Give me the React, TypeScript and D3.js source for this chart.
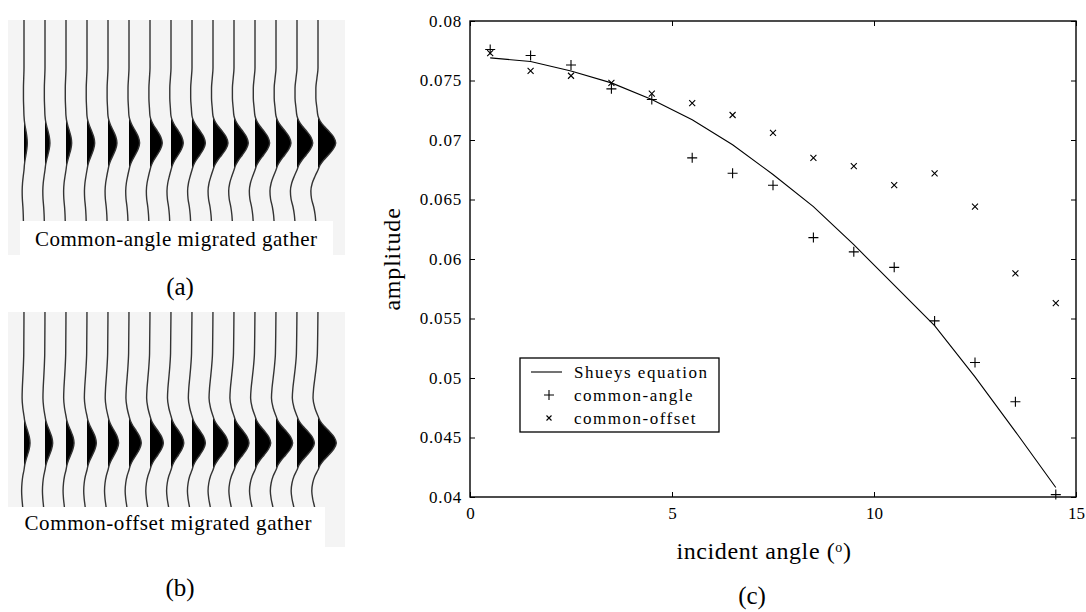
import React from "react";
import * as d3 from "d3";

// incident angle samples (degrees)
const angles = [0.5, 1.5, 2.5, 3.5, 4.5, 5.5, 6.5, 7.5, 8.5, 9.5, 10.5, 11.5, 12.5, 13.5, 14.5];
const shuey = [0.0769, 0.0766, 0.0758, 0.0748, 0.0734, 0.0717, 0.0696, 0.0671, 0.0644, 0.0612, 0.0578, 0.0544, 0.0501, 0.0455, 0.0408];
const commonAngle = [0.0776, 0.0771, 0.0763, 0.0743, 0.0734, 0.0685, 0.0672, 0.0662, 0.0618, 0.0606, 0.0593, 0.0548, 0.0513, 0.048, 0.0402];
const commonOffset = [0.0773, 0.0758, 0.0754, 0.0748, 0.0739, 0.0731, 0.0721, 0.0706, 0.0685, 0.0678, 0.0662, 0.0672, 0.0644, 0.0588, 0.0563];
const xTicks = [0, 5, 10, 15];
const yTicks = [0.04, 0.045, 0.05, 0.055, 0.06, 0.065, 0.07, 0.075, 0.08];
const yTickLabels = ["0.04", "0.045", "0.05", "0.055", "0.06", "0.065", "0.07", "0.075", "0.08"];

// seismic gathers: 15 traces each
const traces = [1, 2, 3, 4, 5, 6, 7, 8, 9, 10, 11, 12, 13, 14, 15];
const peakA = [0.18, 0.27, 0.31, 0.42, 0.49, 0.58, 0.67, 0.67, 0.73, 0.82, 0.78, 0.8, 0.82, 0.86, 0.97];
const sideA = [0.1, 0.12, 0.13, 0.14, 0.16, 0.18, 0.2, 0.22, 0.24, 0.27, 0.29, 0.31, 0.33, 0.36, 0.39];
const peakB = [0.33, 0.42, 0.44, 0.51, 0.58, 0.67, 0.73, 0.7, 0.73, 0.82, 0.82, 0.86, 0.91, 0.95, 1.0];
const sideB = [0.13, 0.14, 0.16, 0.18, 0.19, 0.21, 0.23, 0.24, 0.25, 0.27, 0.28, 0.3, 0.31, 0.32, 0.34];

// wavelet samples (relative time) with main lobe and side lobe shapes
const waveTimes = [-140, -90, -75, -65, -55, -45, -35, -27, -22, -17, -12, -6, 0, 6, 12, 17, 22, 27, 33, 40, 48, 56, 64, 72, 80, 90];
const mainLobe = [0, 0, 0, 0, 0, 0, 0, 0, 0.12, 0.33, 0.6, 0.88, 1, 0.86, 0.58, 0.32, 0.12, 0, 0, 0, 0, 0, 0, 0, 0, 0];
const sideLobeA = [0, 0, 0, -0.15, -0.3, -0.3, -0.15, 0, 0, 0, 0, 0, 0, 0, 0, 0, 0, 0, -0.4, -0.8, -1, -0.9, -0.6, -0.4, -0.3, -0.2];
const sideLobeB = [0, -0.1, -0.3, -0.5, -0.7, -0.8, -0.5, 0, 0, 0, 0, 0, 0, 0, 0, 0, 0, 0, -0.5, -0.85, -1, -0.85, -0.55, -0.35, -0.25, -0.2];

const SERIF = "'Liberation Serif', 'Times New Roman', serif";

function drawGather(svg, id, top, tDomain, peaks, sides, sideShape, caption, captionBox, label) {
  const g = svg.append("g");
  const bottom = top + (tDomain[1] - tDomain[0]);
  g.append("rect").attr("x", 8).attr("y", top).attr("width", 337).attr("height", 235).attr("fill", "#f4f4f4");

  const xScale = d3.scaleLinear().domain([1, 15]).range([24, 318]);
  const amp = d3.scaleLinear().domain([0, 1]).range([0, 18.3]);
  const tScale = d3.scaleLinear().domain(tDomain).range([top, bottom]);

  svg.append("clipPath").attr("id", id).append("rect").attr("x", 0).attr("y", top).attr("width", 360).attr("height", bottom - top);
  const traceG = g.append("g").attr("clip-path", `url(#${id})`);

  traces.forEach((tr, i) => {
    const base = xScale(tr);
    const vals = waveTimes.map((t, k) => ({ t, v: amp(peaks[i] * mainLobe[k] + sides[i] * sideShape[k]) }));
    const area = d3
      .area()
      .y((d) => tScale(d.t))
      .x0(base)
      .x1((d) => base + Math.max(0, d.v))
      .curve(d3.curveMonotoneY);
    const line = d3
      .line()
      .y((d) => tScale(d.t))
      .x((d) => base + d.v)
      .curve(d3.curveMonotoneY);
    traceG.append("path").attr("d", area(vals)).attr("fill", "#000");
    traceG.append("path").attr("d", line(vals)).attr("fill", "none").attr("stroke", "#333").attr("stroke-width", 1.4);
  });

  g.append("rect")
    .attr("x", captionBox[0])
    .attr("y", bottom)
    .attr("width", captionBox[1] - captionBox[0])
    .attr("height", captionBox[2])
    .attr("fill", "#fff");
  g.append("text")
    .attr("x", caption.x)
    .attr("y", caption.y)
    .attr("text-anchor", "middle")
    .attr("font-family", SERIF)
    .attr("font-size", 21)
    .attr("textLength", caption.w)
    .attr("lengthAdjust", "spacing")
    .text(caption.text);
  g.append("text")
    .attr("x", 180)
    .attr("y", label.y)
    .attr("text-anchor", "middle")
    .attr("font-family", SERIF)
    .attr("font-size", 25)
    .text(label.text);
}

export default function App() {
  const svgRef = React.useRef(null);

  React.useEffect(() => {
    const svg = d3.select(svgRef.current);
    svg.selectAll("*").remove();

    drawGather(svg, "clipA", 20, [-123, 78], peakA, sideA, sideLobeA,
      { x: 176, y: 246, w: 282, text: "Common-angle migrated gather" }, [20, 333, 34], { y: 295, text: "(a)" });
    drawGather(svg, "clipB", 312, [-131, 64], peakB, sideB, sideLobeB,
      { x: 168, y: 530, w: 287, text: "Common-offset migrated gather" }, [8, 325, 40], { y: 596, text: "(b)" });

    // chart (c)
    const x = d3.scaleLinear().domain([0, 15]).range([470, 1076]);
    const y = d3.scaleLinear().domain([0.04, 0.08]).range([497, 21]);
    const plot = svg.append("g");

    plot.append("rect").attr("x", 470).attr("y", 21).attr("width", 606).attr("height", 476).attr("fill", "#fff");

    const yAxis = d3
      .axisLeft(y)
      .tickValues(yTicks)
      .tickSize(-5)
      .tickPadding(8)
      .tickFormat((d, i) => yTickLabels[i]);
    plot
      .append("g")
      .attr("transform", "translate(470,0)")
      .call(yAxis)
      .call((a) => a.select(".domain").remove())
      .call((a) => a.selectAll("line").attr("stroke", "#000"))
      .selectAll("text")
      .attr("font-family", SERIF)
      .attr("font-size", 17)
      .attr("letter-spacing", 0.8)
      .attr("fill", "#000");

    const xAxis = d3.axisBottom(x).tickValues(xTicks).tickSize(-5).tickPadding(10).tickFormat(d3.format("d"));
    plot
      .append("g")
      .attr("transform", "translate(0,497)")
      .call(xAxis)
      .call((a) => a.select(".domain").remove())
      .call((a) => a.selectAll("line").attr("stroke", "#000"))
      .selectAll("text")
      .attr("font-family", SERIF)
      .attr("font-size", 17)
      .attr("fill", "#000");

    plot
      .append("g")
      .attr("transform", "translate(0,21)")
      .call(d3.axisTop(x).tickValues(xTicks).tickSize(-5).tickFormat(() => ""))
      .call((a) => a.select(".domain").remove())
      .selectAll("line")
      .attr("stroke", "#000");
    plot
      .append("g")
      .attr("transform", "translate(1076,0)")
      .call(d3.axisRight(y).tickValues(yTicks).tickSize(-5).tickFormat(() => ""))
      .call((a) => a.select(".domain").remove())
      .selectAll("line")
      .attr("stroke", "#000");

    plot
      .append("rect")
      .attr("x", 470)
      .attr("y", 21)
      .attr("width", 606)
      .attr("height", 476)
      .attr("fill", "none")
      .attr("stroke", "#000")
      .attr("stroke-width", 1.4);

    const line = d3
      .line()
      .x((d, i) => x(angles[i]))
      .y((d) => y(d));
    plot.append("path").attr("d", line(shuey)).attr("fill", "none").attr("stroke", "#000").attr("stroke-width", 1.1);

    const plusPath = "M-5,0H5M0,-5V5";
    const crossPath = "M-3,-3L3,3M-3,3L3,-3";
    plot
      .selectAll(".ca")
      .data(commonAngle)
      .join("path")
      .attr("class", "ca")
      .attr("transform", (d, i) => `translate(${x(angles[i])},${y(d)})`)
      .attr("d", plusPath)
      .attr("stroke", "#000")
      .attr("stroke-width", 1.1)
      .attr("fill", "none");
    plot
      .selectAll(".co")
      .data(commonOffset)
      .join("path")
      .attr("class", "co")
      .attr("transform", (d, i) => `translate(${x(angles[i])},${y(d)})`)
      .attr("d", crossPath)
      .attr("stroke", "#000")
      .attr("stroke-width", 1.1)
      .attr("fill", "none");

    // legend
    const lg = plot.append("g");
    lg.append("rect").attr("x", 520).attr("y", 358).attr("width", 199).attr("height", 74).attr("fill", "#fff").attr("stroke", "#000").attr("stroke-width", 1.3);
    const rows = [
      { label: "Shueys equation", kind: "line" },
      { label: "common-angle", kind: "plus" },
      { label: "common-offset", kind: "cross" },
    ];
    rows.forEach((r, i) => {
      const cy = 372 + i * 23;
      if (r.kind === "line") {
        lg.append("line").attr("x1", 531).attr("x2", 562).attr("y1", cy).attr("y2", cy).attr("stroke", "#000").attr("stroke-width", 1.1);
      } else {
        lg.append("path")
          .attr("transform", `translate(549,${cy})`)
          .attr("d", r.kind === "plus" ? plusPath : "M-2.5,-2.5L2.5,2.5M-2.5,2.5L2.5,-2.5")
          .attr("stroke", "#000")
          .attr("stroke-width", 1.1);
      }
      lg.append("text")
        .attr("x", 574)
        .attr("y", cy + 6)
        .attr("font-family", SERIF)
        .attr("font-size", 17)
        .attr("letter-spacing", 1.5)
        .text(r.label);
    });

    // axis titles
    const xt = plot
      .append("text")
      .attr("x", 764)
      .attr("y", 559)
      .attr("text-anchor", "middle")
      .attr("font-family", SERIF)
      .attr("font-size", 24)
      .attr("letter-spacing", 0.6);
    xt.append("tspan").text("incident angle (");
    xt.append("tspan").attr("font-size", 14).attr("dy", -7).text("o");
    xt.append("tspan").attr("dy", 7).text(")");

    plot
      .append("text")
      .attr("transform", "translate(400,259) rotate(-90)")
      .attr("text-anchor", "middle")
      .attr("font-family", SERIF)
      .attr("font-size", 24)
      .attr("letter-spacing", 0.8)
      .text("amplitude");

    plot
      .append("text")
      .attr("x", 752)
      .attr("y", 604)
      .attr("text-anchor", "middle")
      .attr("font-family", SERIF)
      .attr("font-size", 25)
      .text("(c)");
  }, []);

  return (
    <svg
      ref={svgRef}
      width={1086}
      height={612}
      style={{ position: "absolute", left: 0, top: 0, background: "#fff" }}
    />
  );
}
